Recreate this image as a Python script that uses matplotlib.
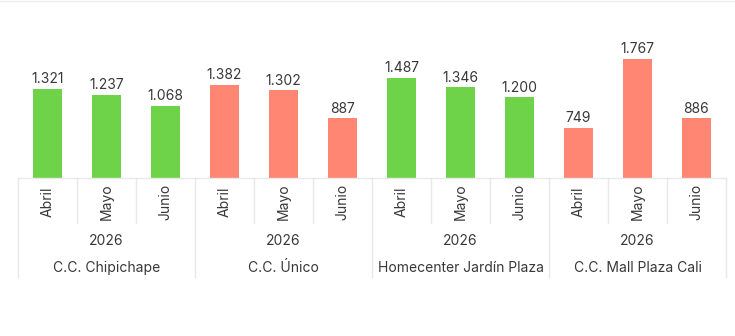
import matplotlib
matplotlib.use("Agg")
import matplotlib.pyplot as plt
from matplotlib.transforms import blended_transform_factory
from matplotlib.lines import Line2D

plt.rcParams["font.family"] = ["Inter", "DejaVu Sans"]

months = ["Abril", "Mayo", "Junio"]
year = "2026"
centros = ["C.C. Chipichape", "C.C. Único", "Homecenter Jardín Plaza", "C.C. Mall Plaza Cali"]
valores = [1321, 1237, 1068, 1382, 1302, 887, 1487, 1346, 1200, 749, 1767, 886]
etiquetas = ["1.321", "1.237", "1.068", "1.382", "1.302", "887",
             "1.487", "1.346", "1.200", "749", "1.767", "886"]
# green = up vs previous, salmon = down (as shown)
colores = ["#6fd34a"] * 3 + ["#ff8672"] * 3 + ["#6fd34a"] * 3 + ["#ff8672", "#ff8672", "#ff8672"]

W, H = 735, 336
fig = plt.figure(figsize=(W / 100, H / 100), dpi=100)
ax = fig.add_axes([18 / W, 1 - 178 / H, 708 / W, 148 / H])

x = list(range(len(valores)))
ax.bar(x, valores, width=0.5, color=colores, zorder=2)
txt = "#383838"
for xi, v, lab in zip(x, valores, etiquetas):
    ax.text(xi, v + 40, lab, ha="center", va="bottom", fontsize=10, color=txt)

ax.set_xlim(-0.5, len(valores) - 0.5)
ax.set_ylim(0, 2200)
ax.axis("off")

tr = blended_transform_factory(ax.transData, fig.transFigure)
fy = lambda py: 1 - py / H
grid = "#e8e8e8"

# axis line
ax.plot([-0.5, len(valores) - 0.5], [fy(178), fy(178)], transform=tr, color=grid, lw=1, clip_on=False)
# month dividers and group dividers
for i in range(len(valores) + 1):
    b = i - 0.5
    bottom = 277 if i % 3 == 0 else 223
    ax.plot([b, b], [fy(178), fy(bottom)], transform=tr, color=grid, lw=1, clip_on=False)

for xi in x:
    ax.text(xi, fy(202), months[xi % 3], rotation=90, ha="center", va="center",
            fontsize=10, color=txt, transform=tr)

for g, nombre in enumerate(centros):
    cx = g * 3 + 1
    ax.text(cx, fy(241), year, ha="center", va="center", fontsize=10, color=txt, transform=tr)
    ax.text(cx, fy(268), nombre, ha="center", va="center", fontsize=10, color=txt, transform=tr)

fig.add_artist(Line2D([0, 1], [fy(0.5), fy(0.5)], transform=fig.transFigure, color="#eeeeee", lw=1))

fig.savefig("out.png", dpi=100, facecolor="white")
